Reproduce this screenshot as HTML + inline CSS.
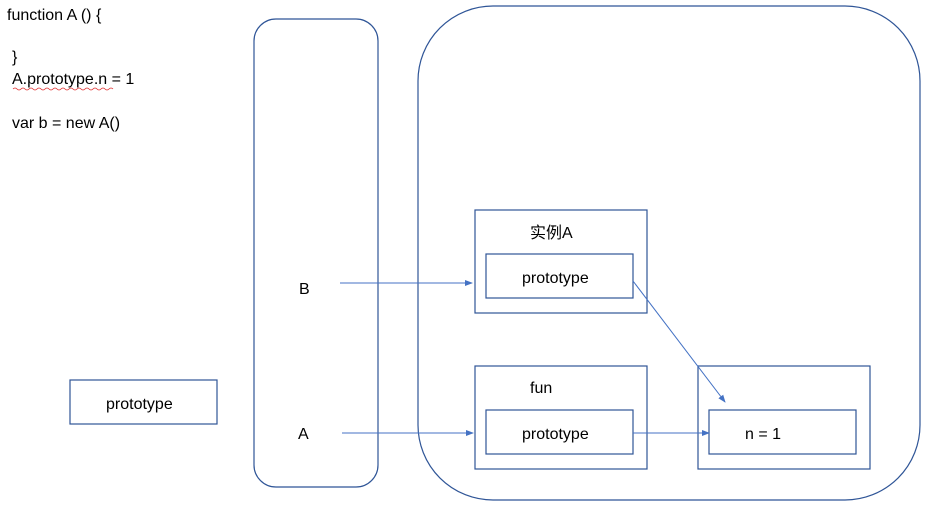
<!DOCTYPE html>
<html><head><meta charset="utf-8"><style>
body{margin:0;background:#fff;}
svg text{font-family:"Liberation Sans","Noto Sans CJK SC",sans-serif;font-size:16px;fill:#000;}
</style></head><body>
<svg width="940" height="522" viewBox="0 0 940 522" xmlns="http://www.w3.org/2000/svg">
<defs><marker id="a" markerWidth="8" markerHeight="8" refX="7" refY="4" orient="auto" markerUnits="userSpaceOnUse"><path d="M0,1 L8,4 L0,7 z" fill="#4472c4"/></marker></defs>
<g fill="none" stroke="#2f5597" stroke-width="1.2">
<rect x="254" y="19" width="124" height="468" rx="22"/>
<rect x="418" y="6" width="502" height="494" rx="75"/>
<rect x="475" y="210" width="172" height="103"/>
<rect x="486" y="254" width="147" height="44"/>
<rect x="475" y="366" width="172" height="103"/>
<rect x="486" y="410" width="147" height="44"/>
<rect x="698" y="366" width="172" height="103"/>
<rect x="709" y="410" width="147" height="44"/>
<rect x="70" y="380" width="147" height="44"/>
</g>
<g stroke="#4472c4" stroke-width="1" fill="none">
<line x1="340" y1="283" x2="472" y2="283" marker-end="url(#a)"/>
<line x1="342" y1="433" x2="473" y2="433" marker-end="url(#a)"/>
<line x1="633" y1="433" x2="709" y2="433" marker-end="url(#a)"/>
<line x1="633" y1="281" x2="725" y2="402" marker-end="url(#a)"/>
</g>
<text x="7" y="20">function A () {</text>
<text x="12" y="62">}</text>
<text x="12" y="84">A.prototype.n = 1</text>
<path d="M13,89 q2,-2 4,0 t4,0 t4,0 t4,0 t4,0 t4,0 t4,0 t4,0 t4,0 t4,0 t4,0 t4,0 t4,0 t4,0 t4,0 t4,0 t4,0 t4,0 t4,0 t4,0 t4,0 t4,0 t4,0 t4,0 t4,0" stroke="#e03030" fill="none" stroke-width="0.8"/>
<text x="12" y="128">var b = new A()</text>
<text x="299" y="294">B</text>
<text x="298" y="439">A</text>
<text x="530" y="238">实例A</text>
<text x="522" y="283">prototype</text>
<text x="530" y="393">fun</text>
<text x="522" y="439">prototype</text>
<text x="745" y="439">n = 1</text>
<text x="106" y="409">prototype</text>
</svg>
</body></html>
